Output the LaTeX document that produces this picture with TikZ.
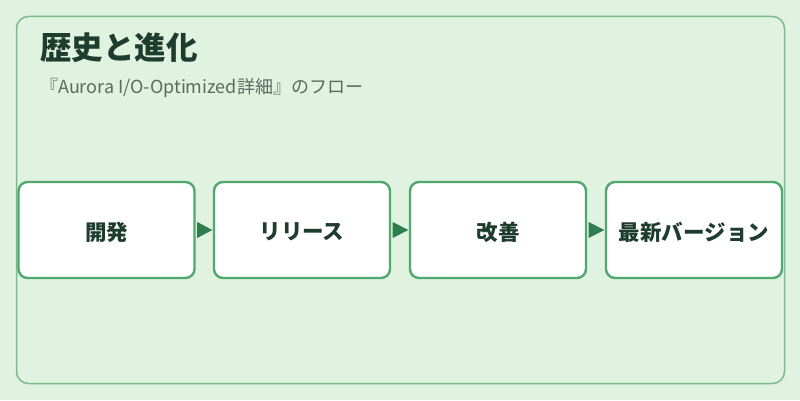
\documentclass[tikz,border=0pt]{standalone}
\usepackage{fontspec}
\setmainfont{Noto Sans CJK JP}
\usetikzlibrary{calc}
\definecolor{bgc}{HTML}{E0F2E0}
\definecolor{outerc}{HTML}{7DB990}
\definecolor{boxc}{HTML}{4FA86E}
\definecolor{arrc}{HTML}{2E7D4F}
\definecolor{titlec}{HTML}{1E3D2E}
\definecolor{subc}{HTML}{5A6B60}
\tikzset{
  stepbox/.style={draw=boxc, line width=2.4pt, fill=white, rounded corners=9pt,
    minimum width=176pt, minimum height=96pt, inner sep=0pt, text depth=0pt,
    font=\bfseries\fontsize{21.5}{24}\selectfont, text=titlec},
  flowtip/.style={fill=arrc}
}
\newcommand\flowarrow[2]{%
  \fill[flowtip] ($(#1.east)+(1.5,8)$) -- ($(#2.west)+(-0.5,0)$) -- ($(#1.east)+(1.5,-8)$) -- cycle;}
\begin{document}
\begin{tikzpicture}[x=1pt,y=1pt]
\fill[bgc] (0,0) rectangle (800,400);
\useasboundingbox (0,0) rectangle (800,400);
\draw[outerc, line width=1.5pt, rounded corners=12pt] (16.5,16.5) rectangle (784.5,383.5);
\node[anchor=base west, font=\bfseries\fontsize{31.5}{36}\selectfont, text=titlec, inner sep=0pt] (title) at (40,341) {歴史と進化};
\node[anchor=base west, font=\fontsize{18}{20}\selectfont, text=subc, inner sep=0pt] (sub) at (40,307) {『Aurora I/O-Optimized詳細』のフロー};
\node[stepbox] (s1) at (106.5,170) {\raisebox{-3pt}{開発}};
\node[stepbox] (s2) at (302,170) {\raisebox{-3pt}{リリース}};
\node[stepbox] (s3) at (498,170) {\raisebox{-3pt}{改善}};
\node[stepbox] (s4) at (694,170) {\raisebox{-3pt}{最新バージョン}};
\flowarrow{s1}{s2}
\flowarrow{s2}{s3}
\flowarrow{s3}{s4}
\end{tikzpicture}
\end{document}
